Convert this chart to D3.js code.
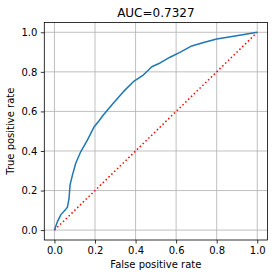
<!DOCTYPE html>
<html>
<head>
<meta charset="utf-8">
<script src="https://cdn.jsdelivr.net/npm/d3@7"></script>
<style>
  body { margin: 0; background: #fff; }
  text { font-family: "DejaVu Sans", sans-serif; fill: #000; }
</style>
</head>
<body>
<div id="chart"></div>
<script>
const width = 277;
const height = 278;

// ROC curve
const fpr = [0, 0.015, 0.031, 0.056, 0.064, 0.072, 0.077, 0.089, 0.105, 0.13, 0.163, 0.196, 0.22, 0.241, 0.29, 0.34, 0.389, 0.438, 0.48, 0.521, 0.57, 0.616, 0.677, 0.74, 0.80, 0.898, 1.0];
const tpr = [0, 0.043, 0.077, 0.106, 0.116, 0.16, 0.229, 0.279, 0.338, 0.397, 0.456, 0.523, 0.553, 0.582, 0.641, 0.70, 0.75, 0.784, 0.826, 0.845, 0.874, 0.897, 0.931, 0.95, 0.966, 0.983, 1.0];
const chance = [0, 1];
const ticks = [0, 0.2, 0.4, 0.6, 0.8, 1.0];
const title = "AUC=0.7327";

const margin = {left: 44.3, right: 9.6, top: 22.4, bottom: 38};

const svg = d3.select("#chart").append("svg")
    .attr("width", width)
    .attr("height", height);

const x = d3.scaleLinear().domain([-0.05, 1.05]).range([margin.left, width - margin.right]);
const y = d3.scaleLinear().domain([-0.05, 1.05]).range([height - margin.bottom, margin.top]);

// grid
const grid = svg.append("g");
grid.selectAll("line.gx").data(ticks).join("line")
    .attr("x1", d => x(d)).attr("x2", d => x(d))
    .attr("y1", y(-0.05)).attr("y2", y(1.05))
    .attr("stroke", "#b0b0b0").attr("stroke-width", 0.8);
grid.selectAll("line.gy").data(ticks).join("line")
    .attr("y1", d => y(d)).attr("y2", d => y(d))
    .attr("x1", x(-0.05)).attr("x2", x(1.05))
    .attr("stroke", "#b0b0b0").attr("stroke-width", 0.8);

// curves
const rocData = fpr.map((f, i) => [f, tpr[i]]);
const line = d3.line().x(d => x(d[0])).y(d => y(d[1]));

svg.append("path")
    .datum(chance.map(v => [v, v]))
    .attr("d", line)
    .attr("fill", "none")
    .attr("stroke", "#ff0000")
    .attr("stroke-width", 1.5)
    .attr("stroke-dasharray", "1.5,2.475");

svg.append("path")
    .datum(rocData)
    .attr("d", line.curve(d3.curveLinear))
    .attr("fill", "none")
    .attr("stroke", "#1f77b4")
    .attr("stroke-width", 1.5)
    .attr("stroke-linejoin", "round");

// axes
const xAxis = d3.axisBottom(x).tickValues(ticks).tickFormat(d3.format(".1f")).tickSizeOuter(0).tickSize(3.5).tickPadding(3.5);
const yAxis = d3.axisLeft(y).tickValues(ticks).tickFormat(d3.format(".1f")).tickSizeOuter(0).tickSize(3.5).tickPadding(3.5);

const gx = svg.append("g").attr("transform", `translate(0,${y(-0.05)})`).call(xAxis);
const gy = svg.append("g").attr("transform", `translate(${x(-0.05)},0)`).call(yAxis);
[gx, gy].forEach(g => {
    g.select(".domain").remove();
    g.selectAll("line").attr("stroke", "#000").attr("stroke-width", 0.8);
    g.selectAll("text").attr("font-size", 10).attr("font-family", "DejaVu Sans").attr("fill", "#000");
});

// frame
svg.append("rect")
    .attr("x", x(-0.05)).attr("y", y(1.05))
    .attr("width", x(1.05) - x(-0.05))
    .attr("height", y(-0.05) - y(1.05))
    .attr("fill", "none")
    .attr("stroke", "#000")
    .attr("stroke-width", 0.8);

// labels
const cx = (x(-0.05) + x(1.05)) / 2;
svg.append("text")
    .attr("x", cx).attr("y", 17)
    .attr("text-anchor", "middle")
    .attr("font-size", 12)
    .text(title);

svg.append("text")
    .attr("x", cx).attr("y", 268)
    .attr("text-anchor", "middle")
    .attr("font-size", 10)
    .text("False positive rate");

svg.append("text")
    .attr("transform", `translate(14,${(y(-0.05) + y(1.05)) / 2}) rotate(-90)`)
    .attr("text-anchor", "middle")
    .attr("font-size", 10)
    .text("True positive rate");
</script>
</body>
</html>
